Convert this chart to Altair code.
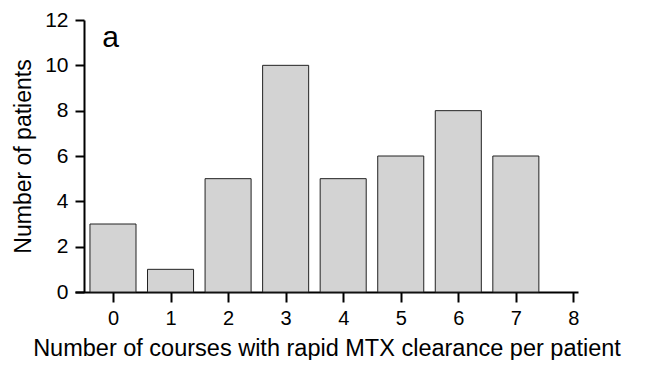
import altair as alt
import pandas as pd

courses = [0, 1, 2, 3, 4, 5, 6, 7, 8]
patients = [3, 1, 5, 10, 5, 6, 8, 6, 0]
tick_values = [0, 1, 2, 3, 4, 5, 6, 7, 8]
y_ticks = [0, 2, 4, 6, 8, 10, 12]

df = pd.DataFrame({"courses": courses, "patients": patients})
df["left"] = df["courses"] - 0.4
df["right"] = df["courses"] + 0.4

FONT = "Liberation Sans"

xscale = alt.Scale(domain=[-0.66, 8.08], nice=False, zero=False)
yscale = alt.Scale(domain=[0, 12], nice=False)

bars = alt.Chart(df).transform_filter("datum.patients > 0").mark_rect(
    fill="#d3d3d3", stroke="#222222", strokeWidth=1
).encode(
    x=alt.X("left:Q", scale=xscale,
            axis=alt.Axis(values=tick_values, format="d",
                          title="Number of courses with rapid MTX clearance per patient",
                          grid=False, domainColor="black", domainWidth=2, tickColor="black",
                          tickWidth=2, tickSize=10, labelFontSize=20, labelPadding=6,
                          labelColor="black", labelFont=FONT, titleFont=FONT, titleFontSize=23.5,
                          titleFontWeight="normal", titleColor="black", titlePadding=8,
                          labelFlush=False)),
    x2="right:Q",
    y=alt.Y("patients:Q", scale=yscale,
            axis=alt.Axis(values=y_ticks, format="d", title="Number of patients", grid=False,
                          domainColor="black", domainWidth=2, tickColor="black", tickWidth=2,
                          tickSize=9, labelFontSize=21, labelPadding=7, labelColor="black",
                          labelFont=FONT, titleFont=FONT, titleFontSize=23, titleFontWeight="normal",
                          titleColor="black", titlePadding=9, offset=-9)),
    y2=alt.datum(0),
)

label_df = pd.DataFrame({"x": [-0.04], "y": [11.2], "t": ["a"]})
label = alt.Chart(label_df).mark_text(
    font=FONT, fontSize=30, color="black", align="center", baseline="middle"
).encode(x=alt.X("x:Q", scale=xscale), y=alt.Y("y:Q", scale=yscale), text="t:N")

chart = alt.layer(bars, label).properties(
    width=503, height=272,
    autosize=alt.AutoSizeParams(type="none"),
    padding={"left": 67, "top": 12, "right": 62, "bottom": 68},
).configure_view(stroke=None)

chart.save("out.html", embed_options={"renderer": "svg", "actions": False})
